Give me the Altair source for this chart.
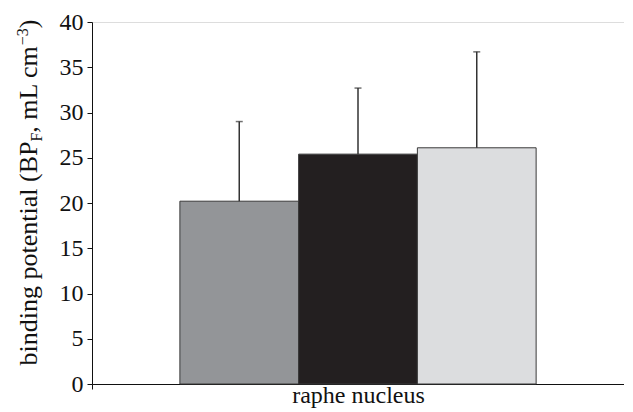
import altair as alt
import pandas as pd

# ---- data ----
region = ["raphe nucleus"]
groups = ["group 1", "group 2", "group 3"]
means = [20.2, 25.4, 26.1]
upper = [29.0, 32.7, 36.7]
colors = ["#939598", "#231f20", "#dcdddf"]
y_ticks = [0, 5, 10, 15, 20, 25, 30, 35, 40]

df = pd.DataFrame({
    "region": region * len(groups),
    "group": groups,
    "mean": means,
    "upper": upper,
})

W, H = 532, 362
FONT = "'Liberation Serif', 'Times New Roman', Times, serif"
FS = 24
TFS = 26
SFS = 16

x_enc = alt.X("region:N", scale=alt.Scale(paddingInner=0, paddingOuter=0),
              axis=alt.Axis(title=None, tickBand="extent", tickSize=5, labelFontSize=FS,
                            labelFont=FONT, labelColor="#111", labelPadding=-6, labelAngle=0,
                            domainColor="#111", tickColor="#111"))
xo_enc = alt.XOffset("group:N", sort=groups,
                     scale=alt.Scale(paddingInner=0, paddingOuter=0.74))
y_scale = alt.Scale(domain=[0, 40], nice=False)
y_axis = alt.Axis(title=None, values=y_ticks, grid=False, tickSize=5, labelFontSize=FS,
                  labelFont=FONT, labelColor="#111", labelPadding=4,
                  domainColor="#111", tickColor="#111")

base = alt.Chart(df)

bars = base.mark_bar(stroke="#3a3a3a", strokeWidth=1).encode(
    x=x_enc,
    xOffset=xo_enc,
    y=alt.Y("mean:Q", scale=y_scale, axis=y_axis),
    color=alt.Color("group:N", sort=groups,
                    scale=alt.Scale(domain=groups, range=colors), legend=None),
)

err = base.mark_rule(color="#333", strokeWidth=1.5).encode(
    x=x_enc, xOffset=xo_enc,
    y=alt.Y("mean:Q", scale=y_scale),
    y2="upper:Q",
)

caps = base.mark_tick(color="#333", thickness=1.5, size=7).encode(
    x=x_enc, xOffset=xo_enc,
    y=alt.Y("upper:Q", scale=y_scale),
)

# ---- y-axis title with subscript / superscript pieces ----
pieces = [
    ("binding potential (BP", TFS, 8.612, 0),
    ("F", SFS, 0.556, 5),
    (", mL cm", TFS, 3.361, 0),
    ("\u22123", SFS, 1.064, -9),
    (")", TFS, 0.333, 0),
]
total = sum(s * w for _, s, w, _ in pieces)
center_y = 170.5
base_x = -55
cur = center_y + total / 2
one = pd.DataFrame({"k": [0]})
title_layers = []
for txt, s, w, shift in pieces:
    title_layers.append(
        alt.Chart(one).mark_text(angle=270, align="left", baseline="alphabetic",
                                 font=FONT, fontSize=s, color="#111").encode(
            x=alt.value(base_x + shift), y=alt.value(cur), text=alt.value(txt))
    )
    cur -= s * w

chart = alt.layer(bars, err, caps, *title_layers).properties(
    width=W, height=H,
    autosize=alt.AutoSizeParams(type="none"),
    padding={"left": 84, "top": 14, "right": 0, "bottom": 28},
).configure_view(stroke=None).configure(background="white")

chart.save("out.html", embed_options={"renderer": "svg", "actions": False})

with open("out.html", encoding="utf-8") as f:
    html = f.read()
html = html.replace("<head>", "<head><style>html,body{overflow:hidden}</style>", 1)
with open("out.html", "w", encoding="utf-8") as f:
    f.write(html)
